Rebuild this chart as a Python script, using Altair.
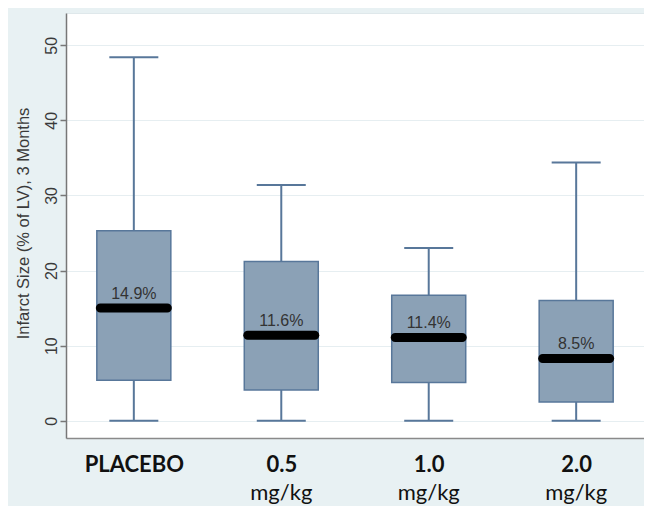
import altair as alt
import pandas as pd

groups = ["PLACEBO", "0.5", "1.0", "2.0"]
units = ["", "mg/kg", "mg/kg", "mg/kg"]
mins = [0.0, 0.0, 0.0, 0.0]
q1 = [5.4, 4.1, 5.1, 2.5]
med = [15.0, 11.4, 11.1, 8.3]
q3 = [25.3, 21.2, 16.7, 16.0]
maxs = [48.4, 31.4, 23.0, 34.4]
labels = ["14.9%", "11.6%", "11.4%", "8.5%"]
y_ticks = [0, 10, 20, 30, 40, 50]

df = pd.DataFrame({
    "group": groups, "unit": units, "min": mins, "q1": q1,
    "med": med, "q3": q3, "max": maxs, "label": labels,
})

W, H = 578, 425
BOX = "#8ba1b6"
EDGE = "#58779a"

xenc = alt.X(
    "group:N", sort=groups,
    scale=alt.Scale(type="point", padding=0.46),
    axis=alt.Axis(
        title=None, ticks=False, grid=False, labelAngle=0,
        labelFont="Lato", labelFontWeight="bold", labelFontSize=22,
        labelColor="#111111", labelPadding=16,
        domainColor="#8a8a8a", domainWidth=1.5,
    ),
)
yscale = alt.Scale(domain=[-2.3, 54.3], nice=False, zero=False)
yaxis = alt.Axis(
    title="Infarct Size (% of LV), 3 Months", values=y_ticks,
    labelAngle=270, labelAlign="center", labelBaseline="alphabetic",
    labelFont="Liberation Sans", labelFontSize=16, labelColor="#3a3a3a",
    labelPadding=4, tickSize=6, tickColor="#777777", tickWidth=1.5,
    domainColor="#777777", domainWidth=1.5,
    gridColor="#e6eef1", gridWidth=1.2,
    titleFont="Liberation Sans", titleFontSize=16.5, titleFontWeight="normal",
    titleColor="#3a3a3a", titleAngle=270, titleAlign="center",
    titleBaseline="alphabetic", titleX=-38, titleY=210,
)

base = alt.Chart(df)

whisker = base.mark_rule(color=EDGE, strokeWidth=2, opacity=1).encode(
    x=xenc, y=alt.Y("min:Q", scale=yscale, axis=yaxis), y2="max:Q"
)
cap_lo = base.mark_tick(color=EDGE, size=49, thickness=2, opacity=1).encode(
    x=xenc, y=alt.Y("min:Q", scale=yscale))
cap_hi = base.mark_tick(color=EDGE, size=49, thickness=2, opacity=1).encode(
    x=xenc, y=alt.Y("max:Q", scale=yscale))
box = base.mark_bar(size=74, fill=BOX, stroke=EDGE, strokeWidth=1.5, opacity=1).encode(
    x=xenc, y=alt.Y("q1:Q", scale=yscale), y2="q3:Q"
)
median = base.mark_tick(color="#000000", size=76, thickness=9, cornerRadius=4.5, opacity=1).encode(
    x=xenc, y=alt.Y("med:Q", scale=yscale)
)
pct = base.mark_text(
    font="Liberation Sans", fontSize=16, color="#333333", dy=-14, baseline="middle"
).encode(x=xenc, y=alt.Y("med:Q", scale=yscale), text="label:N")
unit_txt = base.mark_text(
    font="Lato", fontSize=22, color="#111111", baseline="alphabetic"
).encode(x=xenc, y=alt.value(H + 62), text="unit:N")

chart = alt.layer(whisker, cap_lo, cap_hi, box, median, pct, unit_txt).properties(
    width=W, height=H,
    autosize=alt.AutoSizeParams(type="none"),
    padding={"left": 58, "top": 5, "right": 0, "bottom": 68},
    background="#e8f1f3",
).configure_view(fill="white", stroke="#dfe8eb")

chart.save("out.html", embed_options={"renderer": "svg", "actions": False})
